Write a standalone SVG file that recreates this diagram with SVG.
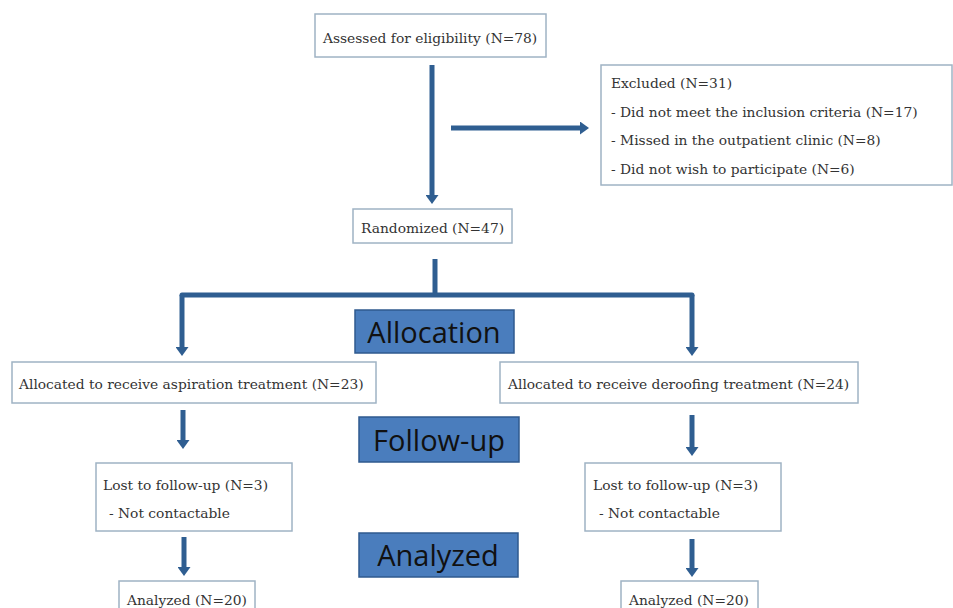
<svg xmlns="http://www.w3.org/2000/svg" width="953" height="608" viewBox="0 0 953 608">
<style>
.box{fill:#fff;stroke:#9fb3c4;stroke-width:1.5}
.lbl{fill:#4a7dbd;stroke:#2f5a8f;stroke-width:1.5}
.t{font-family:"DejaVu Serif","Liberation Serif",serif;font-size:13.8px;fill:#333}
.h{font-family:"Open Sans","Noto Sans",sans-serif;font-size:29px;fill:#111;text-anchor:middle}
.c{fill:none;stroke:#2f5e91;stroke-width:5}
</style>
<defs>
<marker id="ah" markerUnits="userSpaceOnUse" markerWidth="9" markerHeight="13" refX="0" refY="6.5" orient="auto">
<path d="M0,0 L9,6.5 L0,13 z" fill="#2f5e91"/>
</marker>
</defs>
<g id="connectors">
<path class="c" d="M432,65 V195" marker-end="url(#ah)"/>
<path class="c" d="M451,128 H580" marker-end="url(#ah)"/>
<path class="c" d="M435,259 V295"/>
<path class="c" stroke-linecap="round" d="M182,295 H692"/>
<path class="c" d="M182,295 V347" marker-end="url(#ah)"/>
<path class="c" d="M692,295 V347" marker-end="url(#ah)"/>
<path class="c" d="M183,410 V440" marker-end="url(#ah)"/>
<path class="c" d="M692,415 V447" marker-end="url(#ah)"/>
<path class="c" d="M184,537 V567" marker-end="url(#ah)"/>
<path class="c" d="M692,539 V568" marker-end="url(#ah)"/>
</g>
<g id="assessed">
<rect class="box" x="315" y="14" width="231" height="43"/>
<text class="t" x="323" y="43">Assessed for eligibility (N=78)</text>
</g>
<g id="excluded">
<rect class="box" x="601" y="65" width="351" height="120"/>
<text class="t" x="611" y="88">Excluded (N=31)</text>
<text class="t" x="611" y="117">- Did not meet the inclusion criteria (N=17)</text>
<text class="t" x="611" y="145">- Missed in the outpatient clinic (N=8)</text>
<text class="t" x="611" y="174">- Did not wish to participate (N=6)</text>
</g>
<g id="randomized">
<rect class="box" x="353" y="209" width="159" height="34"/>
<text class="t" x="361" y="233">Randomized (N=47)</text>
</g>
<g id="allocation">
<rect class="lbl" x="355" y="310" width="159" height="43"/>
<text class="h" x="434" y="343">Allocation</text>
</g>
<g id="alloc-asp">
<rect class="box" x="12" y="362" width="364" height="41"/>
<text class="t" x="19" y="389">Allocated to receive aspiration treatment (N=23)</text>
</g>
<g id="alloc-deroof">
<rect class="box" x="500" y="362" width="358" height="41"/>
<text class="t" x="508" y="389">Allocated to receive deroofing treatment (N=24)</text>
</g>
<g id="followup">
<rect class="lbl" x="359" y="417" width="160" height="45"/>
<text class="h" x="439" y="451">Follow-up</text>
</g>
<g id="lost-left">
<rect class="box" x="96" y="463" width="196" height="68"/>
<text class="t" x="103" y="490">Lost to follow-up (N=3)</text>
<text class="t" x="109" y="518">- Not contactable</text>
</g>
<g id="lost-right">
<rect class="box" x="585" y="463" width="196" height="68"/>
<text class="t" x="593" y="490">Lost to follow-up (N=3)</text>
<text class="t" x="599" y="518">- Not contactable</text>
</g>
<g id="analyzed-label">
<rect class="lbl" x="359" y="533" width="159" height="44"/>
<text class="h" x="438" y="566">Analyzed</text>
</g>
<g id="analyzed-left">
<rect class="box" x="119" y="581" width="136" height="40"/>
<text class="t" x="127" y="605">Analyzed (N=20)</text>
</g>
<g id="analyzed-right">
<rect class="box" x="621" y="581" width="137" height="40"/>
<text class="t" x="629" y="605">Analyzed (N=20)</text>
</g>
</svg>
